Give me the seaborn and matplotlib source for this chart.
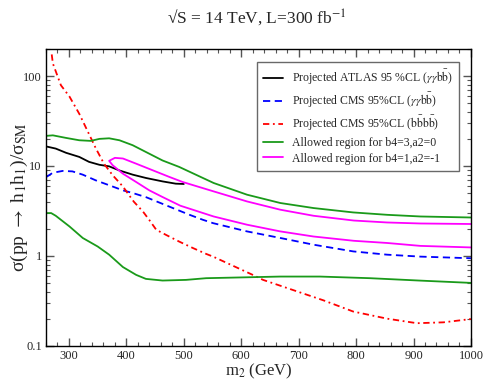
import numpy as np
import pandas as pd
import seaborn as sns
import matplotlib.pyplot as plt
from matplotlib.ticker import MultipleLocator, LogLocator, NullFormatter

# ---- data ----
atlas_m = [260, 277, 295, 318, 335, 353, 370, 388, 411, 434, 463, 486, 500]
atlas_xs = [16.5, 15.6, 14.0, 12.6, 11.1, 10.3, 9.9, 8.9, 8.0, 7.35, 6.73, 6.35, 6.3]

cms_gg_m = [260, 272, 289, 306, 324, 347, 370, 394, 411, 434, 481, 510, 533, 551, 610,
            668, 726, 795, 854, 912, 1000]
cms_gg_xs = [7.5, 8.4, 8.8, 8.7, 8.0, 6.9, 6.1, 5.35, 5.0, 4.5, 3.4, 2.86, 2.52, 2.31, 1.87,
             1.58, 1.33, 1.12, 1.03, 0.98, 0.94]

cms_4b_m = [270, 272, 286, 301, 318, 333, 347, 361, 376, 394, 405, 413, 429, 440, 452,
            469, 492, 516, 539, 551, 621, 638, 743, 795, 854, 906, 952, 1000]
cms_4b_xs = [174, 138, 79, 59, 38, 24, 15.6, 10.6, 7.9, 5.9, 4.7, 4.0, 3.1, 2.5, 1.95,
             1.71, 1.44, 1.22, 1.05, 0.98, 0.61, 0.54, 0.32, 0.24, 0.20, 0.178, 0.182, 0.198]

b43_up_m = [260, 272, 295, 318, 338, 353, 370, 388, 411, 434, 463, 492, 552, 610, 668,
            726, 795, 854, 912, 1000]
b43_up_xs = [21.6, 21.9, 20.5, 19.3, 19.0, 20.0, 20.3, 19.3, 17.0, 14.3, 11.5, 9.75, 6.46,
             4.79, 3.87, 3.40, 3.04, 2.86, 2.74, 2.67]
b43_lo_m = [260, 269, 277, 301, 324, 350, 370, 394, 417, 434, 463, 504, 539, 668, 737,
            824, 912, 1000]
b43_lo_xs = [2.99, 2.99, 2.79, 2.12, 1.58, 1.27, 1.03, 0.75, 0.614, 0.554, 0.531, 0.54,
             0.564, 0.588, 0.588, 0.564, 0.53, 0.50]

b41_up_m = [370, 380, 394, 417, 446, 475, 498, 552, 610, 668, 726, 796, 854, 912, 1000]
b41_up_xs = [11.4, 12.3, 12.1, 10.6, 8.94, 7.54, 6.63, 5.21, 4.03, 3.26, 2.79, 2.47, 2.35,
             2.29, 2.26]
b41_lo_m = [370, 376, 394, 417, 440, 463, 494, 552, 610, 668, 726, 796, 854, 912, 1000]
b41_lo_xs = [11.4, 10.2, 8.2, 6.63, 5.35, 4.51, 3.61, 2.74, 2.22, 1.87, 1.64, 1.47, 1.39,
             1.29, 1.24]

green = "#1a9a1a"

sns.set_theme(style="ticks")
plt.rcParams['font.family'] = ['Liberation Serif', 'DejaVu Serif']
plt.rcParams['mathtext.fontset'] = 'stix'

fig = plt.figure(figsize=(4.84, 3.84), dpi=100)
ax = fig.add_axes([0.095, 0.0997, 0.878, 0.7727])

lw = 1.3
kw = dict(ax=ax, lw=lw, sort=False, estimator=None)
sns.lineplot(x=atlas_m, y=atlas_xs, color="black",
             label=r"Projected ATLAS 95 %CL ($\gamma\gamma\mathrm{b}\bar{\mathrm{b}}$)", **kw)
sns.lineplot(x=cms_gg_m, y=cms_gg_xs, color="blue", linestyle=(0, (4, 2.5)),
             label=r"Projected CMS 95%CL ($\gamma\gamma\mathrm{b}\bar{\mathrm{b}}$)", **kw)
sns.lineplot(x=cms_4b_m, y=cms_4b_xs, color="red", linestyle=(0, (3.5, 2, 1, 2)),
             label=r"Projected CMS 95%CL ($\mathrm{b}\bar{\mathrm{b}}\mathrm{b}\bar{\mathrm{b}}$)", **kw)
sns.lineplot(x=b43_up_m, y=b43_up_xs, color=green,
             label="Allowed region for b4=3,a2=0", **kw)
sns.lineplot(x=b43_lo_m, y=b43_lo_xs, color=green, **kw)
loop_m = b41_up_m[::-1] + b41_lo_m[1:]
loop_xs = b41_up_xs[::-1] + b41_lo_xs[1:]
sns.lineplot(x=loop_m, y=loop_xs, color="magenta",
             label="Allowed region for b4=1,a2=-1", **kw)

ax.set_yscale("log")
ax.set_xlim(260, 1000)
ax.set_ylim(0.1, 200)

ax.xaxis.set_major_locator(MultipleLocator(100))
ax.xaxis.set_minor_locator(MultipleLocator(20))
ax.yaxis.set_minor_locator(LogLocator(base=10, subs=np.arange(2, 10), numticks=20))
ax.yaxis.set_minor_formatter(NullFormatter())
ax.set_yticks([0.1, 1, 10, 100])
ax.set_yticklabels(["0.1", "1", "10", "100"])

ax.tick_params(which="both", direction="in", top=True, right=True, labelsize=9,
               color="#555555", pad=3)
ax.tick_params(which="major", length=6, width=1)
ax.tick_params(which="minor", length=3, width=0.8)
for s in ax.spines.values():
    s.set_linewidth(1.0)
    s.set_color("black")

ax.set_xlabel(r"m$_2$ (GeV)", fontsize=12, labelpad=0)
ax.set_ylabel(r"σ(pp $\rightarrow$ h$_1$h$_1$)/σ$_{\mathrm{SM}}$", fontsize=14)
ax.yaxis.set_label_coords(-0.038, 0.5)
fig.text(0.53, 0.955, r"√S = 14 TeV, L=300 fb$^{-1}$", ha="center", va="center", fontsize=12.5)

leg = ax.legend(loc="upper right", bbox_to_anchor=(0.972, 0.956), borderaxespad=0,
                fontsize=8.5, frameon=True, fancybox=False, edgecolor="#444444",
                handlelength=1.7, labelspacing=0.32, borderpad=0.5, handletextpad=0.8)
leg.get_frame().set_linewidth(1.0)

fig.savefig("out.png", dpi=100)
